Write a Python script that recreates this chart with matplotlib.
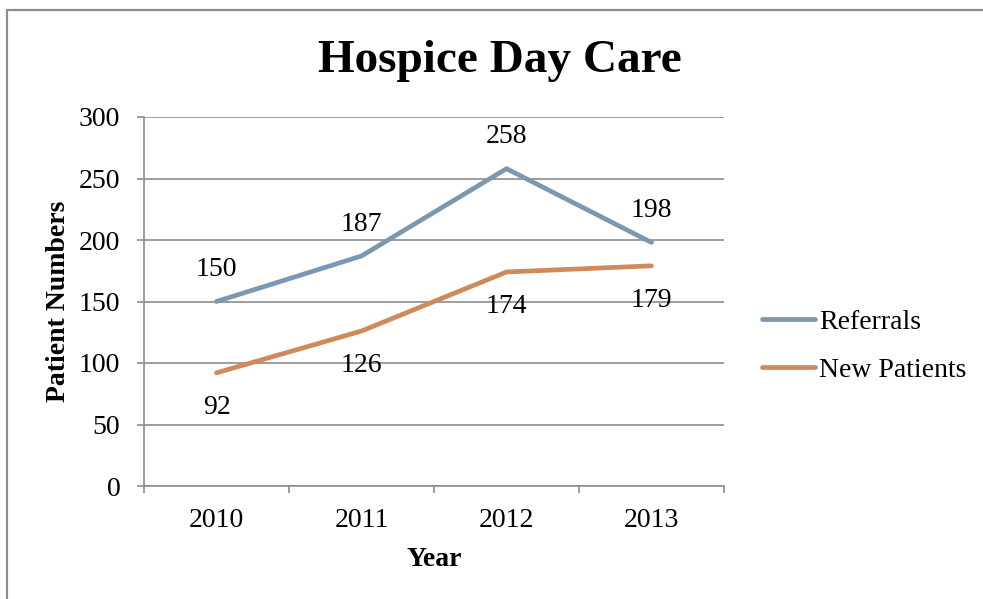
import matplotlib
matplotlib.use("Agg")
import matplotlib.pyplot as plt
from matplotlib.lines import Line2D

years = ["2010", "2011", "2012", "2013"]
referrals = [150, 187, 258, 198]
new_patients = [92, 126, 174, 179]

BLUE = "#7B98B1"
ORANGE = "#CF8A5B"
GRID = "#8C8C8C"
SERIF = "Liberation Serif"
FS = 20

plt.rcParams["font.family"] = SERIF

fig = plt.figure(figsize=(9.83, 5.99), dpi=100)
ax = fig.add_axes([144 / 983, 1 - 486 / 599, 580 / 983, 369 / 599])

x = [i + 0.5 for i in range(len(years))]
ax.plot(x, referrals, color=BLUE, lw=3.4, solid_capstyle="round", solid_joinstyle="round", label="Referrals")
ax.plot(x, new_patients, color=ORANGE, lw=3.4, solid_capstyle="round", solid_joinstyle="round", label="New Patients")

for xi, v in zip(x, referrals):
    ax.annotate(str(v), (xi, v), xytext=(0, 23), textcoords="offset points",
                ha="center", va="center", fontsize=FS)
for xi, v in zip(x, new_patients):
    ax.annotate(str(v), (xi, v), xytext=(0, -25), textcoords="offset points",
                ha="center", va="center", fontsize=FS)

ax.set_xlim(0, 4)
ax.set_ylim(0, 300)
ax.set_yticks(range(0, 301, 50))
ax.set_xticks(range(0, 5))
ax.set_xticklabels([])
ax.set_xticks(x, minor=True)
ax.set_xticklabels(years, minor=True)
ax.tick_params(axis="x", which="major", length=5, width=1.2, color=GRID, direction="out")
ax.tick_params(axis="x", which="minor", length=0, pad=16, labelsize=FS)
ax.tick_params(axis="y", length=5, width=1.2, color=GRID, direction="out", pad=12, labelsize=FS)

ax.grid(axis="y", color=GRID, lw=1.2)
ax.set_axisbelow(True)
for s in ["top", "right"]:
    ax.spines[s].set_visible(False)
for s in ["left", "bottom"]:
    ax.spines[s].set_color(GRID)
    ax.spines[s].set_linewidth(1.2)

ax.set_ylabel("Patient Numbers", fontsize=FS, weight="bold", labelpad=6)
ax.set_xlabel("Year", fontsize=FS, weight="bold", labelpad=10)

fig.text(500 / 983, 1 - 61 / 599, "Hospice Day Care", fontsize=34, weight="bold",
         ha="center", va="center")

ax.legend(loc="center left", bbox_to_anchor=(762 / 983, 1 - 346 / 599),
          bbox_transform=fig.transFigure, frameon=False, fontsize=FS,
          handlelength=1.9, handletextpad=0.15, labelspacing=0.8,
          borderpad=0, borderaxespad=0)

# outer chart border (only top and left edges fall inside the picture)
fig.add_artist(Line2D([7 / 983, 7 / 983, 1], [0, 1 - 10 / 599, 1 - 10 / 599],
                      transform=fig.transFigure, color="#8C8C8C", lw=1.6))

fig.savefig("out.png", dpi=100, facecolor="white")
